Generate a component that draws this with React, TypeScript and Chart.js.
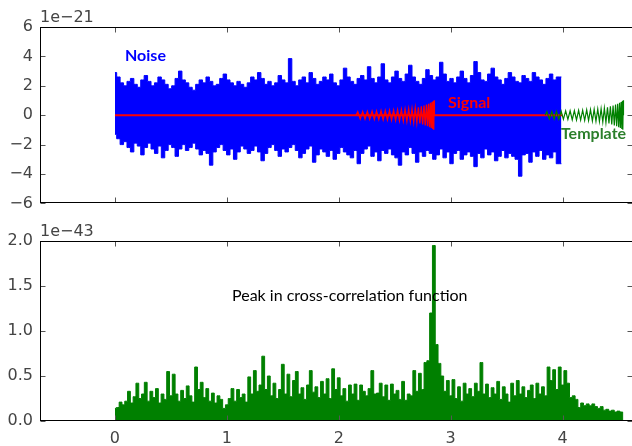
import React, { useEffect, useRef } from "react";
import { Chart, registerables } from "chart.js";

Chart.register(...registerables);

// ---------- axes ----------
const X_MIN = -0.67;
const X_MAX = 4.63;
const X_TICKS = [0, 1, 2, 3, 4];
const TOP_Y_TICKS = [-6, -4, -2, 0, 2, 4, 6];
const BOTTOM_Y_TICKS = [0, 0.5, 1.0, 1.5, 2.0];
const TOP_OFFSET_LABEL = "1e\u221221";
const BOTTOM_OFFSET_LABEL = "1e\u221243";

// ---------- noise (units of 1e-21): upper / lower excursions per bin ----------
const NOISE_START = 0;
const NOISE_END = 3.99;
const NOISE_HIGH = [
  2.9, 2.6, 2.2, 2.0, 2.3, 2.5, 2.1, 1.9, 2.4, 2.7,
  2.3, 2.0, 2.2, 2.6, 2.4, 2.1, 1.8, 2.0, 2.5, 3.0,
  2.4, 2.2, 1.9, 1.7, 2.1, 2.4, 2.2, 2.6, 2.3, 2.0,
  2.1, 2.5, 2.8, 2.4, 2.2, 2.0, 2.3, 2.1, 1.9, 2.2,
  2.6, 2.4, 2.9, 2.5, 2.1, 2.3, 2.0, 2.2, 2.7, 2.4,
  2.2, 3.85, 2.3, 2.0, 2.4, 2.6, 2.2, 2.9, 2.5, 2.1,
  2.3, 2.6, 2.4, 2.8, 2.2, 2.0, 2.4, 3.2, 2.6, 2.3,
  2.1, 2.5, 2.7, 2.4, 3.3, 2.5, 2.2, 2.6, 3.5, 2.4,
  2.2, 2.6, 3.0, 2.5, 2.3, 2.8, 3.4, 2.6, 2.3, 2.1,
  2.5, 3.1, 2.7, 2.4, 2.6, 3.6, 2.8, 2.3, 2.5, 2.2,
  2.6, 3.0, 2.5, 2.2, 2.7, 3.65, 2.9, 2.4, 2.3, 2.8,
  3.2, 2.6, 2.4, 2.1, 2.5, 2.9, 2.6, 2.3, 2.2, 2.7,
  2.5, 2.3, 2.9, 2.6, 2.4, 2.1, 2.5, 2.8, 2.4, 2.6,
];
const NOISE_LOW = [
  -1.3, -1.6, -2.0, -1.8, -2.2, -2.5, -1.9, -2.1, -2.7, -2.2,
  -1.9, -2.3, -2.6, -2.1, -2.9, -2.4, -2.0, -2.2, -2.8, -2.3,
  -2.0, -2.4, -2.2, -1.9, -2.3, -2.7, -2.4, -2.6, -3.4, -2.5,
  -2.2, -2.0, -2.4, -2.7, -2.3, -3.0, -2.5, -2.1, -2.3, -2.6,
  -2.4, -2.1, -2.5, -3.1, -2.6, -2.2, -2.0, -2.4, -2.8, -2.3,
  -2.5, -2.2, -2.0, -2.4, -2.9, -2.6, -2.3, -2.1, -3.2, -2.7,
  -2.3, -2.5, -2.8, -2.4, -3.0, -2.6, -2.2, -2.5, -2.7, -2.9,
  -2.4, -3.3, -2.6, -2.3, -2.1, -2.8, -2.5, -3.1, -2.4, -2.6,
  -2.3, -2.7, -2.9, -3.4, -2.5, -2.7, -2.2, -2.6, -3.2, -2.5,
  -2.8, -2.4, -2.6, -3.0, -2.7, -2.3, -2.9, -2.5, -3.3, -2.6,
  -2.4, -3.0, -2.7, -2.5, -2.8, -3.5, -2.6, -2.9, -2.3, -2.7,
  -2.5, -3.1, -2.8, -2.4, -2.9, -2.6, -2.8, -3.0, -4.15, -2.7,
  -2.6, -3.2, -2.5, -2.8, -2.4, -3.0, -2.7, -2.9, -2.5, -3.3,
];

// ---------- signal chirp (units of 1e-21) ----------
const SIGNAL_FLAT_START = 0;
const SIGNAL_CHIRP_START = 2.155;
const SIGNAL_CHIRP_END = 2.855;
const SIGNAL_FLAT_END = 4.0;
const CHIRP_T = [
  2.170, 2.192, 2.214, 2.235, 2.256, 2.277, 2.298, 2.318, 2.338, 2.358,
  2.378, 2.397, 2.416, 2.435, 2.454, 2.472, 2.490, 2.508, 2.526, 2.543,
  2.560, 2.577, 2.593, 2.609, 2.625, 2.640, 2.655, 2.670, 2.684, 2.698,
  2.712, 2.725, 2.738, 2.750, 2.762, 2.773, 2.784, 2.794, 2.803, 2.812,
  2.820, 2.827, 2.834, 2.840, 2.845, 2.849, 2.853,
];
const CHIRP_H = [
  0.24, -0.25, 0.25, -0.26, 0.26, -0.27, 0.27, -0.28, 0.29, -0.29,
  0.30, -0.31, 0.31, -0.32, 0.33, -0.33, 0.34, -0.35, 0.36, -0.37,
  0.38, -0.39, 0.40, -0.41, 0.42, -0.43, 0.44, -0.46, 0.48, -0.50,
  0.53, -0.56, 0.60, -0.63, 0.66, -0.69, 0.72, -0.75, 0.78, -0.81,
  0.84, -0.87, 0.90, -0.93, 0.96, -0.99, 1.02,
];
const TEMPLATE_SHIFT = 1.69;

// ---------- cross-correlation (units of 1e-43), x = i * CC_STEP ----------
const CC_STEP = 0.025;
const CROSS_CORR = [
  0.14, 0.15, 0.21, 0.18, 0.22, 0.33, 0.20, 0.27, 0.42, 0.25,
  0.30, 0.43, 0.22, 0.33, 0.26, 0.36, 0.20, 0.30, 0.24, 0.55,
  0.28, 0.52, 0.30, 0.22, 0.34, 0.25, 0.39, 0.28, 0.21, 0.60,
  0.35, 0.43, 0.26, 0.36, 0.22, 0.31, 0.20, 0.28, 0.24, 0.14,
  0.18, 0.25, 0.36, 0.22, 0.35, 0.26, 0.30, 0.21, 0.49, 0.30,
  0.56, 0.33, 0.40, 0.72, 0.35, 0.50, 0.28, 0.42, 0.25, 0.35,
  0.63, 0.30, 0.52, 0.27, 0.45, 0.55, 0.30, 0.37, 0.24, 0.40,
  0.56, 0.32, 0.38, 0.26, 0.44, 0.30, 0.47, 0.25, 0.58, 0.35,
  0.48, 0.28, 0.36, 0.22, 0.40, 0.30, 0.41, 0.23, 0.40, 0.33,
  0.28, 0.36, 0.56, 0.30, 0.31, 0.42, 0.27, 0.40, 0.23, 0.41,
  0.30, 0.34, 0.24, 0.44, 0.23, 0.30, 0.28, 0.56, 0.33, 0.53,
  0.35, 0.65, 0.67, 1.20, 1.95, 0.85, 0.64, 0.50, 0.33, 0.45,
  0.28, 0.46, 0.25, 0.38, 0.22, 0.42, 0.30, 0.36, 0.27, 0.42,
  0.33, 0.65, 0.30, 0.41, 0.26, 0.37, 0.30, 0.44, 0.24, 0.38,
  0.30, 0.21, 0.42, 0.28, 0.45, 0.30, 0.38, 0.26, 0.34, 0.40,
  0.25, 0.42, 0.30, 0.38, 0.28, 0.60, 0.45, 0.57, 0.35, 0.60,
  0.40, 0.56, 0.42, 0.26, 0.28, 0.24, 0.15, 0.20, 0.17, 0.19,
  0.17, 0.19, 0.16, 0.14, 0.16, 0.12, 0.13, 0.11, 0.12, 0.10,
  0.11, 0.10, 0.0,
];

// ---------- annotations ----------
const TOP_NOTES = [
  { text: "Noise", x: 0.09, y: 4.07, color: "#0000ff", bold: true },
  { text: "Signal", x: 2.976, y: 0.87, color: "#ff0000", bold: true },
  { text: "Template", x: 3.986, y: -1.27, color: "#2b7f2b", bold: true },
];
const BOTTOM_NOTES = [
  { text: "Peak in cross-correlation function", x: 1.046, y: 1.389, color: "#000000", bold: false },
];

const TICK_FONT = { family: '"DejaVu Sans", sans-serif', size: 16 };
const TICK_COLOR = "#444444";
const NOTE_FAMILY = 'Lato, "Noto Sans", sans-serif';

const fmtSigned = (v: number) => (v < 0 ? "\u2212" + Math.abs(v) : String(v));

function framePlugin(offsetLabel: string, notes: any[], noteSize: number) {
  return {
    id: "frame",
    afterDatasetsDraw(chart: any) {
      const { ctx, chartArea: a, scales } = chart;
      const L = Math.round(a.left) + 0.5;
      const R = Math.round(a.right) - 0.5;
      const T = Math.round(a.top) + 0.5;
      const B = Math.round(a.bottom) - 0.5;
      ctx.save();
      notes.forEach((n) => {
        ctx.font = `${n.bold ? "bold " : ""}${noteSize}px ${NOTE_FAMILY}`;
        ctx.fillStyle = n.color;
        ctx.textAlign = "left";
        ctx.textBaseline = "middle";
        ctx.fillText(n.text, scales.x.getPixelForValue(n.x), scales.y.getPixelForValue(n.y));
      });
      ctx.strokeStyle = "#555555";
      ctx.lineWidth = 1;
      const tl = 5;
      ctx.beginPath();
      X_TICKS.forEach((v) => {
        const px = Math.round(scales.x.getPixelForValue(v)) + 0.5;
        ctx.moveTo(px, T);
        ctx.lineTo(px, T + tl);
        ctx.moveTo(px, B);
        ctx.lineTo(px, B - tl);
      });
      scales.y.ticks.forEach((t: any) => {
        const py = Math.round(scales.y.getPixelForValue(t.value)) + 0.5;
        ctx.moveTo(L, py);
        ctx.lineTo(L + tl, py);
        ctx.moveTo(R, py);
        ctx.lineTo(R - tl, py);
      });
      ctx.stroke();
      ctx.strokeStyle = "#000000";
      ctx.strokeRect(L, T, R - L, B - T);
      ctx.font = `16px "DejaVu Sans", sans-serif`;
      ctx.fillStyle = TICK_COLOR;
      ctx.textAlign = "left";
      ctx.textBaseline = "alphabetic";
      ctx.fillText(offsetLabel, a.left, a.top - 5);
      ctx.restore();
    },
  };
}

export default function App() {
  const topRef = useRef<HTMLCanvasElement | null>(null);
  const botRef = useRef<HTMLCanvasElement | null>(null);

  useEffect(() => {
    const step = (NOISE_END - NOISE_START) / NOISE_HIGH.length;
    const noiseHigh = NOISE_HIGH.map((h, i) => ({ x: NOISE_START + i * step, y: h }));
    noiseHigh.push({ x: NOISE_END, y: NOISE_HIGH[NOISE_HIGH.length - 1] });
    const noiseLow = NOISE_LOW.map((h, i) => ({ x: NOISE_START + i * step, y: h }));
    noiseLow.push({ x: NOISE_END, y: NOISE_LOW[NOISE_LOW.length - 1] });

    const chirp = CHIRP_T.map((t, i) => ({ x: t, y: CHIRP_H[i] }));
    const signalFlat = [
      { x: SIGNAL_FLAT_START, y: 0 },
      { x: SIGNAL_FLAT_END, y: 0 },
    ];
    const signalChirp = [
      { x: SIGNAL_CHIRP_START, y: 0 },
      ...chirp,
      { x: SIGNAL_CHIRP_END, y: 0 },
    ];
    const template = [
      { x: SIGNAL_CHIRP_START + TEMPLATE_SHIFT, y: 0 },
      ...chirp.map((p) => ({ x: p.x + TEMPLATE_SHIFT, y: p.y })),
      { x: SIGNAL_CHIRP_END + TEMPLATE_SHIFT, y: 0 },
    ];
    const cc = CROSS_CORR.map((v, i) => ({ x: i * CC_STEP, y: v }));

    const baseX = (showLabels: boolean, height: number) => ({
      type: "linear" as const,
      min: X_MIN,
      max: X_MAX,
      afterBuildTicks: (s: any) => {
        s.ticks = X_TICKS.map((v) => ({ value: v }));
      },
      afterFit: (s: any) => {
        s.height = height;
      },
      grid: { display: false, drawTicks: false },
      border: { display: false },
      ticks: {
        display: showLabels,
        padding: 8,
        font: TICK_FONT,
        color: TICK_COLOR,
        maxRotation: 0,
        autoSkip: false,
        callback: (v: any) => String(v),
      },
    });
    const baseY = (min: number, max: number, ticks: number[], fmt: (v: number) => string) => ({
      type: "linear" as const,
      min,
      max,
      afterBuildTicks: (s: any) => {
        s.ticks = ticks.map((v) => ({ value: v }));
      },
      afterFit: (s: any) => {
        s.width = 40;
      },
      grid: { display: false, drawTicks: false },
      border: { display: false },
      ticks: {
        padding: 7,
        font: TICK_FONT,
        color: TICK_COLOR,
        autoSkip: false,
        callback: (v: any) => fmt(Number(v)),
      },
    });

    const common = {
      responsive: false,
      maintainAspectRatio: false,
      animation: false as const,
      events: [] as any[],
      plugins: { legend: { display: false }, tooltip: { enabled: false } },
    };

    const top = new Chart(topRef.current as HTMLCanvasElement, {
      type: "line",
      data: {
        datasets: [
          { data: template, borderColor: "#008000", borderWidth: 1.2, pointRadius: 0, tension: 0, fill: false },
          { data: signalChirp, borderColor: "#ff0000", borderWidth: 1.3, pointRadius: 0, tension: 0, fill: false },
          { data: signalFlat, borderColor: "#ff0000", borderWidth: 2, pointRadius: 0, tension: 0, fill: false },
          {
            data: noiseHigh,
            borderColor: "#0000ff",
            backgroundColor: "#0000ff",
            borderWidth: 1,
            pointRadius: 0,
            stepped: "middle",
            fill: "+1",
          },
          {
            data: noiseLow,
            borderColor: "#0000ff",
            borderWidth: 1,
            pointRadius: 0,
            stepped: "middle",
            fill: false,
          },
        ],
      },
      options: {
        ...common,
        parsing: false,
        layout: { padding: { top: 27, left: 0, right: 0, bottom: 0 } },
        scales: {
          x: baseX(false, 13),
          y: baseY(-6, 6, TOP_Y_TICKS, fmtSigned),
        },
      } as any,
      plugins: [framePlugin(TOP_OFFSET_LABEL, TOP_NOTES, 16)],
    });

    const bottom = new Chart(botRef.current as HTMLCanvasElement, {
      type: "line",
      data: {
        datasets: [
          {
            data: cc,
            borderColor: "#008000",
            backgroundColor: "#008000",
            borderWidth: 1,
            pointRadius: 0,
            stepped: "middle",
            fill: "origin",
          },
        ],
      },
      options: {
        ...common,
        parsing: false,
        layout: { padding: { top: 21, left: 0, right: 0, bottom: 0 } },
        scales: {
          x: baseX(true, 25),
          y: baseY(0, 2, BOTTOM_Y_TICKS, (v) => v.toFixed(1)),
        },
      } as any,
      plugins: [framePlugin(BOTTOM_OFFSET_LABEL, BOTTOM_NOTES, 16)],
    });

    return () => {
      top.destroy();
      bottom.destroy();
    };
  }, []);

  return (
    <div style={{ position: "fixed", left: 0, top: 0, width: 633, height: 446, background: "#ffffff", overflow: "hidden" }}>
      <canvas ref={topRef} width={633} height={220} style={{ position: "absolute", left: 0, top: 0 }} />
      <canvas ref={botRef} width={633} height={226} style={{ position: "absolute", left: 0, top: 220 }} />
    </div>
  );
}
